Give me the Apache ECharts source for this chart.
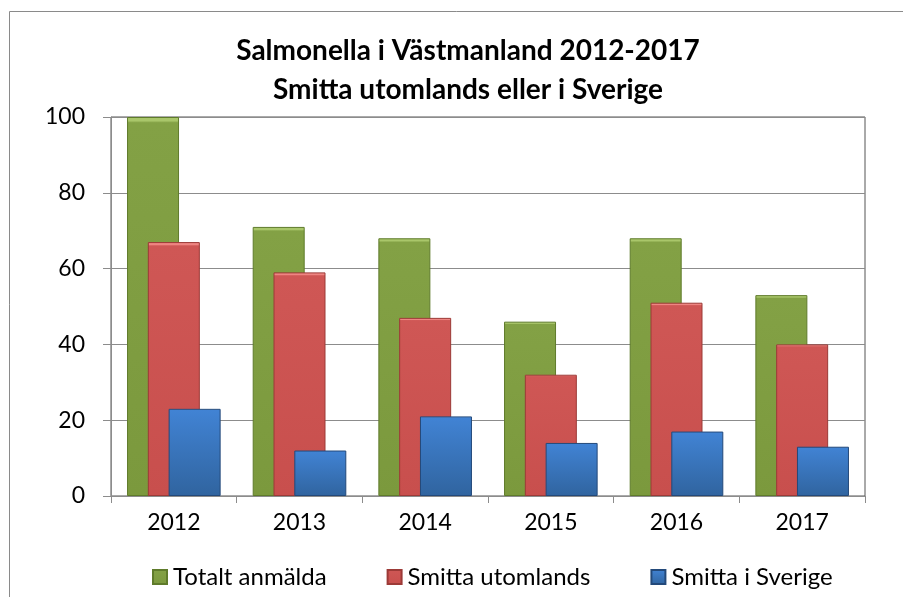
<!DOCTYPE html>
<html>
<head>
<meta charset="utf-8">
<script src="https://cdn.jsdelivr.net/npm/echarts@6/dist/echarts.min.js"></script>
<style>
    html, body { margin: 0; padding: 0; background: #fff; }
    #chart { width: 903px; height: 597px; }
</style>
</head>
<body>
<div id="chart"></div>
<script>
    // data
    const years = ['2012', '2013', '2014', '2015', '2016', '2017'];
    const totalt = [100, 71, 68, 46, 68, 53];
    const utomlands = [67, 59, 47, 32, 51, 40];
    const sverige = [23, 12, 21, 14, 17, 13];
    const seriesNames = ['Totalt anmälda', 'Smitta utomlands', 'Smitta i Sverige'];

    const font = 'Lato';

    function bevel(top, mid, bottom) {
        return new echarts.graphic.LinearGradient(0, 0, 0, 1, [
            {offset: 0, color: top},
            {offset: 0.01, color: top},
            {offset: 0.015, color: mid},
            {offset: 1, color: bottom}
        ]);
    }

    let dom = document.getElementById('chart');
    let myChart = echarts.init(dom);

    let option = {
        animation: false,
        title: {
            text: 'Salmonella i Västmanland 2012-2017\nSmitta utomlands eller i Sverige',
            left: 463,
            textAlign: 'center',
            top: 26,
            textStyle: {
                fontFamily: font,
                fontWeight: 'bold',
                fontSize: 28,
                lineHeight: 39,
                color: '#000'
            }
        },
        legend: {
            data: seriesNames,
            left: 147,
            top: 560,
            icon: 'rect',
            itemWidth: 14,
            itemHeight: 14,
            itemGap: 60,
            textStyle: {
                fontFamily: font,
                fontSize: 24,
                color: '#000',
                padding: [0, 0, 0, 1]
            }
        },
        grid: {
            left: 111,
            right: 38,
            top: 117,
            bottom: 101,
            show: true,
            borderColor: '#555',
            borderWidth: 1
        },
        xAxis: {
            type: 'category',
            data: years,
            axisLine: {lineStyle: {color: '#8c8c8c'}},
            axisTick: {show: true, length: 7, lineStyle: {color: '#8c8c8c'}},
            axisLabel: {
                fontFamily: font,
                fontSize: 23,
                color: '#000',
                margin: 15
            }
        },
        yAxis: {
            type: 'value',
            min: 0,
            max: 100,
            interval: 20,
            axisLine: {show: true, lineStyle: {color: '#8c8c8c'}},
            axisTick: {show: true, length: 8, lineStyle: {color: '#8c8c8c'}},
            splitLine: {lineStyle: {color: '#8c8c8c'}},
            axisLabel: {
                fontFamily: font,
                fontSize: 23,
                color: '#000',
                margin: 26
            }
        },
        series: [
            {
                name: seriesNames[0],
                type: 'bar',
                data: totalt,
                barWidth: 52,
                barGap: '-60%',
                itemStyle: {
                    color: bevel('#a9c66a', '#83a145', '#7b993d'),
                    borderColor: '#5f7b2b',
                    borderWidth: 1
                }
            },
            {
                name: seriesNames[1],
                type: 'bar',
                data: utomlands,
                barWidth: 52,
                barGap: '-60%',
                itemStyle: {
                    color: bevel('#ee8582', '#cf5755', '#c84f4d'),
                    borderColor: '#9c3a37',
                    borderWidth: 1
                }
            },
            {
                name: seriesNames[2],
                type: 'bar',
                data: sverige,
                barWidth: 52,
                barGap: '-60%',
                itemStyle: {
                    color: bevel('#79b3f0', '#4183d4', '#30649f'),
                    borderColor: '#23497a',
                    borderWidth: 1
                }
            }
        ],
        graphic: [
            {
                type: 'polyline',
                silent: true,
                shape: {points: [[9.5, 597], [9.5, 11.5], [903, 11.5]]},
                style: {stroke: '#8a8a8a', lineWidth: 1, fill: null}
            }
        ]
    };
    myChart.setOption(option, true);
</script>
</body>
</html>
